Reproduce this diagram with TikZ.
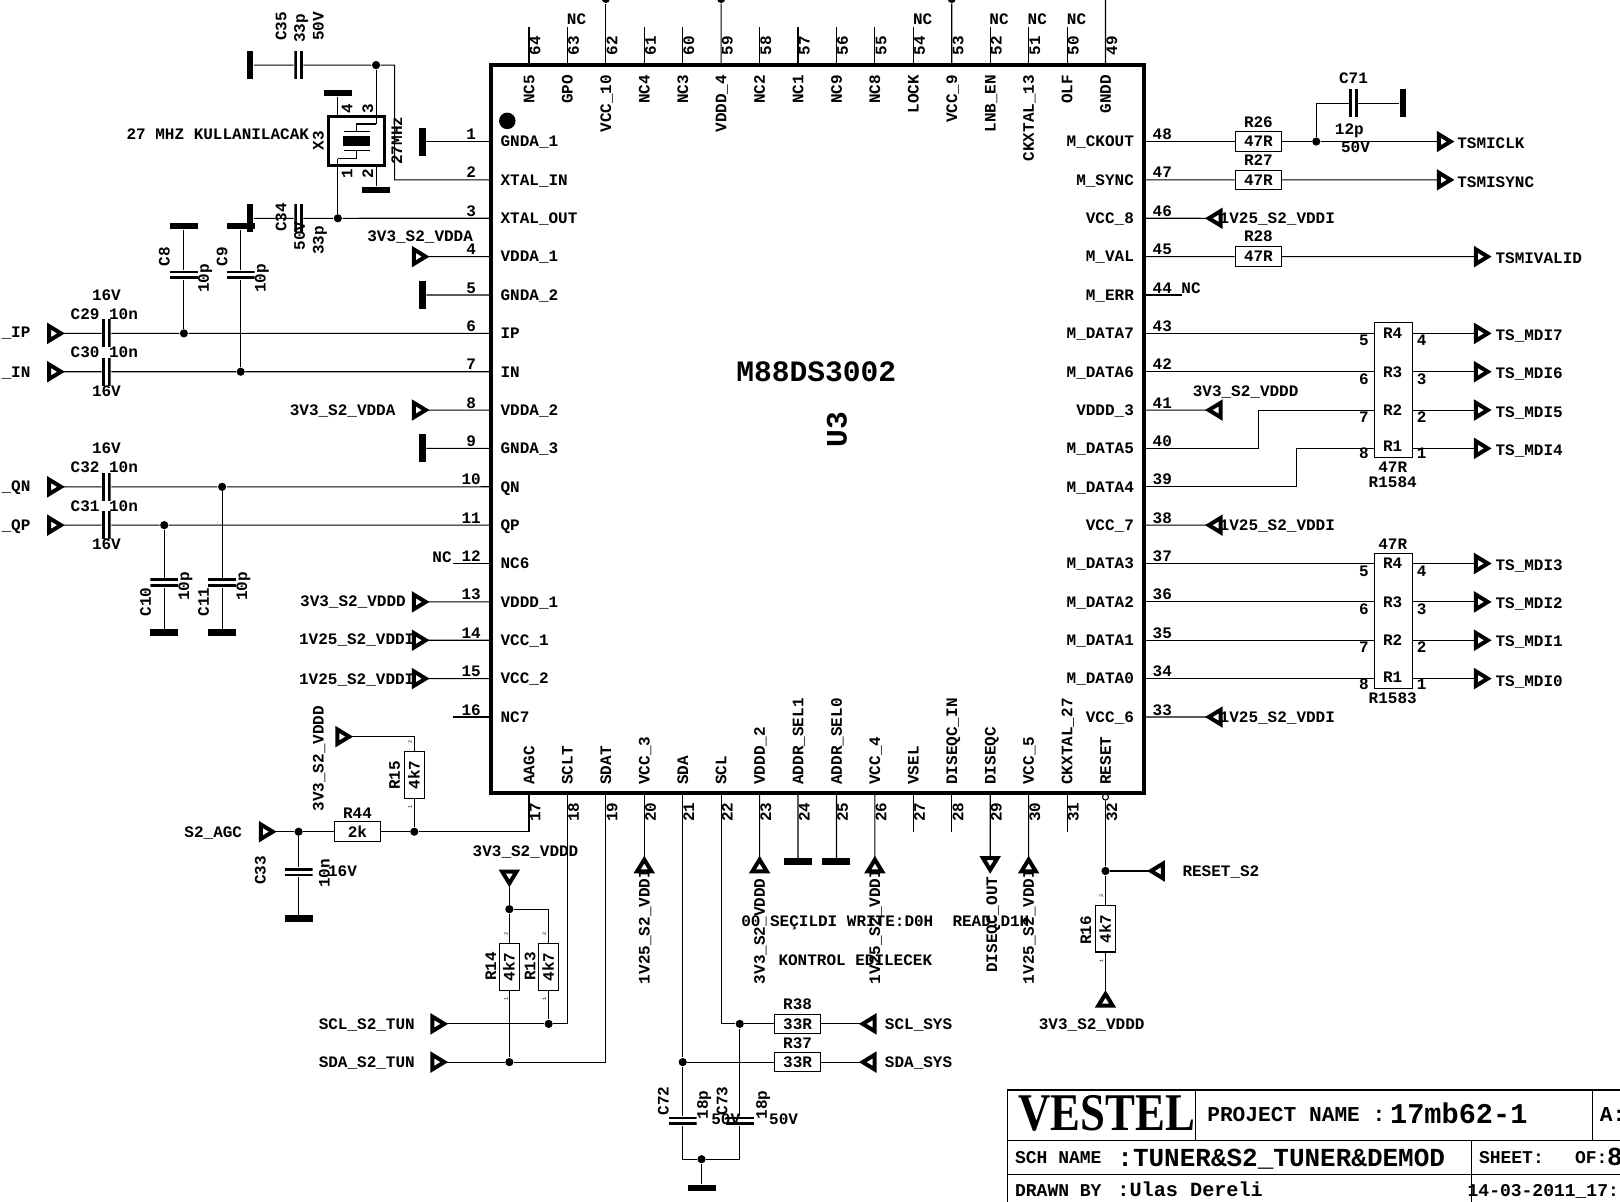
\documentclass[tikz,border=0pt]{standalone}
\usepackage{fontspec}
\setmonofont{Liberation Mono}
\newfontfamily\vestelfont{Liberation Serif}
\newcommand{\lblfont}{\fontsize{8}{8}\selectfont\bfseries\ttfamily}
\newcommand{\tinyfont}{\fontsize{2.6}{3}\selectfont\ttfamily}
\usetikzlibrary{shapes,arrows,positioning,calc}

\begin{document}
\begin{tikzpicture}[x=0.5166pt,y=-0.5166pt,line width=.55pt,
		txt/.style={font=\lblfont,inner sep=0pt,text height=5.3pt,text depth=0pt},
		txtl/.style={txt,anchor=west},
		txtv/.style={txt,rotate=90,anchor=west},
		tinynum/.style={font=\tinyfont,inner sep=0pt,rotate=90},
		dot/.style={circle,fill=black,inner sep=0pt,minimum size=4.1pt},
		gndh/.style={rectangle,fill=black,inner sep=0pt,minimum width=14pt,minimum height=3.2pt},
		gndv/.style={gndh,rotate=90},
		res/.style={draw,rectangle,txt,minimum width=23.2pt,minimum height=9.8pt},
		resv/.style={res,rotate=90},
		port/.style={isosceles triangle,isosceles triangle stretches,draw,line width=2pt,inner sep=0pt,outer sep=0pt,
			minimum width=7.2pt,minimum height=5.9pt,anchor=apex,rotate=#1},
		capv/.style={rectangle,inner sep=0pt,minimum width=4.3pt,minimum height=14pt,
			path picture={
				\fill (path picture bounding box.north west) rectangle ($(path picture bounding box.south west)+(1.4pt,0)$);
				\fill (path picture bounding box.north east) rectangle ($(path picture bounding box.south east)+(-1.4pt,0)$);
			}},
		caph/.style={rectangle,inner sep=0pt,minimum width=14pt,minimum height=4.3pt,
			path picture={
				\fill (path picture bounding box.north west) rectangle ($(path picture bounding box.north east)+(0,-1.4pt)$);
				\fill (path picture bounding box.south west) rectangle ($(path picture bounding box.south east)+(0,1.4pt)$);
			}}]
	\useasboundingbox (0,0) rectangle (1568,1163);

	\node[draw,rectangle,line width=2pt,minimum width=326.5pt,minimum height=364.2pt] (U3) at (791,415.5) {};
	\fill (491,117) circle (8);
	\node[txt,font=\fontsize{14.8}{15}\selectfont\bfseries\ttfamily,text height=9.8pt] (chipname) at (790,360) {M88DS3002};
	\node[txt,font=\fontsize{14.8}{15}\selectfont\bfseries\ttfamily,text height=9.8pt,rotate=90] (chipref) at (810,416) {U3};

	\foreach \n/\t [evaluate=\n as \yy using 137+37.13*(\n-1)] in {1/GNDA\_1,2/XTAL\_IN,3/XTAL\_OUT,4/VDDA\_1,
		5/GNDA\_2,6/IP,7/IN,8/VDDA\_2,9/GNDA\_3,10/QN,11/QP,12/NC6,13/VDDD\_1,14/VCC\_1,15/VCC\_2,16/NC7}
	{
		\coordinate (p\n) at (475,\yy);
		\coordinate (q\n) at (438,\yy);
		\node[txtl] (name\n) at (484,\yy) {\t};
		\node[txt] (num\n) at (456,\yy-7) {\n};
	}
	\foreach \n/\t [evaluate=\n as \yy using 137+37.13*(48-\n)] in {48/M\_CKOUT,47/M\_SYNC,46/VCC\_8,45/M\_VAL,
		44/M\_ERR,43/M\_DATA7,42/M\_DATA6,41/VDDD\_3,40/M\_DATA5,39/M\_DATA4,38/VCC\_7,37/M\_DATA3,36/M\_DATA2,
		35/M\_DATA1,34/M\_DATA0,33/VCC\_6}
	{
		\coordinate (p\n) at (1107,\yy);
		\coordinate (q\n) at (1144,\yy);
		\node[txt,anchor=east] (name\n) at (1098,\yy) {\t};
		\node[txt] (num\n) at (1125,\yy-7) {\n};
	}
	\foreach \n/\t [evaluate=\n as \xx using 512+37.2*(64-\n)] in {64/NC5,63/GPO,62/VCC\_10,61/NC4,60/NC3,59/VDDD\_4,
		58/NC2,57/NC1,56/NC9,55/NC8,54/LOCK,53/VCC\_9,52/LNB\_EN,51/CKXTAL\_13,50/OLF,49/GNDD}
	{
		\coordinate (p\n) at (\xx,63);
		\coordinate (q\n) at (\xx,26);
		\node[txt,rotate=90,anchor=east] (name\n) at (\xx,72) {\t};
		\node[txt,rotate=90] (num\n) at (\xx+6,44) {\n};
	}
	\foreach \n/\t [evaluate=\n as \xx using 512+37.2*(\n-17)] in {17/AAGC,18/SCLT,19/SDAT,20/VCC\_3,21/SDA,22/SCL,
		23/VDDD\_2,24/ADDR\_SEL1,25/ADDR\_SEL0,26/VCC\_4,27/VSEL,28/DISEQC\_IN,29/DISEQC,30/VCC\_5,31/CKXTAL\_27,32/RESET}
	{
		\coordinate (p\n) at (\xx,768);
		\coordinate (q\n) at (\xx,805);
		\node[txtv] (name\n) at (\xx,760) {\t};
		\node[txt,rotate=90] (num\n) at (\xx+6,786) {\n};
	}

	\foreach \n in {64,63,61,60,58,57,56,55,54,52,51,50,12,16,44,27,28,31}
		\draw (p\n)--(q\n);
	\foreach \n/\xx in {63/558,54/893,52/967,51/1004,50/1042}
		\node[txt] (nc\n) at (\xx,19) {NC};
	\node[txtl] (nc12) at (418,539) {NC};
	\node[txtl] (nc44) at (1143,279) {NC};

	\foreach \n/\xx/\yy in {jC35/364/63,jXO/327/211.3,jIP/178/322.7,jIN/233/359.8,jQN/215/471.2,jQP/159/508.3,
		jR15/401/805,jAGC/289/805,jVDD/493/880,jSCLT/531/991,jSDAT/493/1028,jSCL/716/991,jSDA/660.8/1028,
		jG/679/1122,jRST/1070/843,jCLK/1274/137,t62/586.4/-1,t59/698/-1,t53/921.2/-1}
		\node[dot] (\n) at (\xx,\yy) {};
	\node[circle,draw,fill=white,inner sep=0pt,minimum size=3pt] (bub32) at (1070,771.5) {};
	\coordinate (t49) at (1070,0);

	\foreach \n/\xx/\yy in {gX4/327/90,gX2/364/184,gC8/178/219,gC9/233/219,gC10/159/612,gC11/215/612,gC33/289/889,
		g24/772.4/834,g25/809.6/834,gG/679/1150}
		\node[gndh] (\n) at (\xx,\yy) {};
	\foreach \n/\xx/\yy in {gC35/242/63,gC34/242/211.3,g1/409/137,g5/409/285.5,g9/409/434,gC71/1358/100}
		\node[gndv] (\n) at (\xx,\yy) {};

	\foreach \n/\xx/\yy in {C35/289/63,C34/289/211.3,C29/103/322.7,C30/103/359.8,C32/103/471.2,C31/103/508.3,C71/1310/100}
		\node[capv] (\n) at (\xx,\yy) {};
	\foreach \n/\xx/\yy in {C8/178/266,C9/233/266,C10/159/564,C11/215/564,C33/289/844,C72/660.8/1085,C73/716/1085}
		\node[caph] (\n) at (\xx,\yy) {};

	\foreach \n/\xx/\yy/\t in {R44/346/805/2k,R26/1218/137/47R,R27/1218/174.1/47R,R28/1218/248.4/47R,
		R38/772/991/33R,R37/772/1028/33R}
		\node[res] (\n) at (\xx,\yy) {\t};
	\foreach \n/\xx/\yy/\t in {R15/401/750/4k7,R14/493/936/4k7,R13/531/936/4k7,R16/1070/899/4k7}
		\node[resv] (\n) at (\xx,\yy) {\t};

	\foreach \n/\xx/\yy/\r in {pIP/59/322.7/0,pIN/59/359.8/0,pQN/59/471.2/0,pQP/59/508.3/0,pP4/412/248.4/0,
		pP8/412/396.9/0,pP13/412/582.6/0,pP14/412/619.7/0,pP15/412/656.8/0,pR15/338/713/0,pAGC/264/805/0,
		pSCLT/430/991/0,pSDAT/430/1028/0,pCLK/1404/137/0,pSYNC/1404/174.1/0,pVALID/1440/248.4/0,
		pT7/1440/322.7/0,pT6/1440/359.8/0,pT5/1440/396.9/0,pT4/1440/434/0,
		pT3/1440/545.4/0,pT2/1440/582.6/0,pT1/1440/619.7/0,pT0/1440/656.8/0,
		pP46/1170/211.3/180,pP41/1170/396.9/180,pP38/1170/508.3/180,pP33/1170/694/180,
		pRST/1114/843/180,pSCL/835/991/180,pSDA/835/1028/180,
		pP20/623.6/832/90,pP23/735.2/832/90,pP26/846.8/832/90,pP30/995.6/832/90,pR16/1070/962/90,
		pVDD/493/855/270,pP29/958.4/842/270}
		\node[port=\r] (\n) at (\xx,\yy) {};

	\node[draw,rectangle,line width=1.6pt,minimum width=27.9pt,minimum height=24.3pt] (X3) at (345,136.5) {};
	\coordinate (x4) at (327,113);
	\coordinate (x2) at (364,160);
	\coordinate (x1) at (327,153.6);
	\coordinate (x3) at (364,120);
	\coordinate (kXI) at (382,174.1);
	\draw (333,127)--(358,127);
	\draw (333,146)--(358,146);
	\fill (332,132) rectangle (358,141);
	\draw (x3)--(345,120)--(345,127);
	\draw (345,146)--(345,153.6)--(x1);
	\draw (gX4)--(x4);
	\draw (x2)--(gX2);
	\draw (jC35)--(x3);
	\draw (gC35)--(C35)--(jC35)-|(kXI)--(p2);
	\draw (gC34)--(C34)--(jXO)--(p3);
	\draw (x1)--(jXO);
	\draw (g1)--(p1);
	\draw (g5)--(p5);
	\draw (g9)--(p9);
	\draw (pP4.apex)--(p4);
	\draw (pP8.apex)--(p8);
	\draw (pP13.apex)--(p13);
	\draw (pP14.apex)--(p14);
	\draw (pP15.apex)--(p15);
	\draw (pIP.apex)--(C29)--(jIP)--(p6);
	\draw (pIN.apex)--(C30)--(jIN)--(p7);
	\draw (gC8)--(C8)--(jIP);
	\draw (gC9)--(C9)--(jIN);
	\draw (pQN.apex)--(C32)--(jQN)--(p10);
	\draw (pQP.apex)--(C31)--(jQP)--(p11);
	\draw (jQP)--(C10)--(gC10);
	\draw (jQN)--(C11)--(gC11);
	\draw (pR15.apex)-|(R15.east);
	\draw (R15.west)--(jR15);
	\draw (pAGC.apex)--(jAGC)--(R44)--(jR15)-|(p17);
	\draw (jAGC)--(C33)--(gC33);
	\draw (p18)|-(jSCLT)--(pSCLT.apex);
	\draw (p19)|-(jSDAT)--(pSDAT.apex);
	\draw (pVDD.apex)--(jVDD)--(R14)--(jSDAT);
	\draw (jVDD)-|(R13.east);
	\draw (R13.west)--(jSCLT);
	\draw (p20)--(pP20.apex);
	\draw (p23)--(pP23.apex);
	\draw (p26)--(pP26.apex);
	\draw (p30)--(pP30.apex);
	\draw (p29)--(pP29.lower side);
	\draw (p24)--(g24);
	\draw (p25)--(g25);
	\draw (p21)--(jSDA)--(C72);
	\draw (C72)|-(jG);
	\draw (C73)|-(jG);
	\draw (jSCL)--(C73);
	\draw (jG)--(gG);
	\draw (p22)|-(jSCL)--(R38)--(pSCL.apex);
	\draw (jSDA)--(R37)--(pSDA.apex);
	\draw (bub32)--(jRST)--(R16)--(pR16.apex);
	\draw (jRST)--(pRST.apex);
	\draw (p62)--(t62);
	\draw (p59)--(t59);
	\draw (p53)--(t53);
	\draw (p49)--(t49);

	\draw (p48)--(R26)--(jCLK)--(pCLK.lower side);
	\draw (jCLK)|-(C71)--(gC71);
	\draw (p47)--(R27)--(pSYNC.lower side);
	\draw (p45)--(R28)--(pVALID.lower side);
	\draw (p46)--(pP46.apex);
	\draw (p41)--(pP41.apex);
	\draw (p38)--(pP38.apex);
	\draw (p33)--(pP33.apex);

	\node[draw,rectangle,minimum width=19.1pt,minimum height=67.7pt] (R1584) at (1348.5,377.5) {};
	\node[draw,rectangle,minimum width=19.1pt,minimum height=67.2pt] (R1583) at (1348.5,601) {};
	\coordinate (k40) at (1218,396.9);
	\coordinate (k39) at (1255,434);
	\draw (p43)--(R1584.west |- p43);
	\draw (p42)--(R1584.west |- p42);
	\draw (p40)-|(k40)--(R1584.west |- k40);
	\draw (p39)-|(k39)--(R1584.west |- k39);
	\draw (p37)--(R1583.west |- p37);
	\draw (p36)--(R1583.west |- p36);
	\draw (p35)--(R1583.west |- p35);
	\draw (p34)--(R1583.west |- p34);
	\foreach \n/\b in {T7/R1584,T6/R1584,T5/R1584,T4/R1584,T3/R1583,T2/R1583,T1/R1583,T0/R1583}
		\draw (\b.east |- p\n)--(p\n.lower side);
	\foreach \n/\t/\a/\b/\yy [count=\c] in {a/R4/5/4/322.7,b/R3/6/3/359.8,c/R2/7/2/396.9,d/R1/8/1/432,
		e/R4/5/4/545.4,f/R3/6/3/582.6,g/R2/7/2/619.7,h/R1/8/1/655}
	{
		\node[txt] (sub\n) at (1348,\yy) {\t};
		\node[txt] (subl\n) at (1320,\yy+7) {\a};
		\node[txt] (subr\n) at (1376,\yy+7) {\b};
	}

	\foreach \t/\xx/\yy [count=\c] in {16V/103/286,16V/103/379,16V/103/434,16V/103/527,
		C29 10n/101/304,C30 10n/101/341,C32 10n/101/452,C31 10n/101/490,
		R44/346/787,R26/1218/118,R27/1218/155,R28/1218/229,R38/772/972,R37/772/1010,
		C71/1310/76,12p/1306/125,50V/1312/142,47R/1348/452,R1584/1348/467,47R/1348/527,R1583/1348/676}
		\node[txt] (lab\c) at (\xx,\yy) {\t};
	\foreach \t/\xx/\yy [count=\c] in {27 MHZ KULLANILACAK/122/130,3V3\_S2\_VDDA/355/229,3V3\_S2\_VDDA/280/397,
		3V3\_S2\_VDDD/290/582,1V25\_S2\_VDDI/289/619,1V25\_S2\_VDDI/289/657,S2\_AGC/178/805,3V3\_S2\_VDDD/457/824,
		SCL\_S2\_TUN/308/991,SDA\_S2\_TUN/308/1028,SCL\_SYS/856/991,SDA\_SYS/856/1028,RESET\_S2/1144/843,
		3V3\_S2\_VDDD/1005/991,1V25\_S2\_VDDI/1180/211,1V25\_S2\_VDDI/1180/508,1V25\_S2\_VDDI/1180/694,
		3V3\_S2\_VDDD/1154/379,TSMICLK/1410/139,TSMISYNC/1410/176,TSMIVALID/1447/250,TS\_MDI7/1447/324,
		TS\_MDI6/1447/361,TS\_MDI5/1447/399,TS\_MDI4/1447/436,TS\_MDI3/1447/547,TS\_MDI2/1447/584,
		TS\_MDI1/1447/621,TS\_MDI0/1447/659,16V/317/843,50V/688/1083,50V/744/1083,\_IP/1/322,\_IN/1/360,
		\_QN/1/471,\_QP/1/508,00 SEÇILDI WRITE:D0H\ \ READ:D1H/717/892,KONTROL EDILECEK/753/929}
		\node[txtl] (left\c) at (\xx,\yy) {\t};
	\foreach \t/\xx/\yy [count=\c] in {C35/272/40,33p/290/42,50V/308/40,X3/308/146,27MHz/384/160,C34/272/225,
		50V/290/243,33p/308/247,C8/159/258,10p/197/284,C9/215/258,10p/252/284,C10/141/597,10p/178/582,
		C11/197/597,10p/234/582,R15/382/765,3V3\_S2\_VDDD/308/786,C33/252/857,10n/314/860,R14/475/950,R13/513/950,
		1V25\_S2\_VDDI/623.6/953,3V3\_S2\_VDDD/735.2/953,1V25\_S2\_VDDI/846.8/953,DISEQC\_OUT/960/942,
		1V25\_S2\_VDDI/995.6/953,R16/1051/915,C72/642/1080,18p/680/1084,C73/699/1080,18p/737/1084,
		4/336/110,3/356/110,1/336/173,2/356/173}
		\node[txtv] (side\c) at (\xx,\yy) {\t};
	\foreach \t/\xx/\yy [count=\c] in {2/397/718,1/397/781,2/490/904,1/490/967,2/527/904,1/527/967,2/1066/867,1/1066/930}
		\node[tinynum] (small\c) at (\xx,\yy) {\t};

	\draw (1568,1055)-|(975,1163);
	\draw (975,1104)--(1568,1104);
	\draw (975,1137)--(1568,1137);
	\draw (1157,1055)--(1157,1104);
	\draw (1541,1055)--(1541,1104);
	\draw (1424,1104)--(1424,1163);
	\node[inner sep=0pt,anchor=west] (vestel) at (985,1078) {\scalebox{.845}[1]{\vestelfont\bfseries\fontsize{26.5}{27}\selectfont VESTEL}};
	\node[txtl,font=\fontsize{10.6}{11}\selectfont\bfseries\ttfamily,text height=7pt] (proj) at (1168,1079) {PROJECT NAME :};
	\node[txtl,font=\fontsize{14.3}{15}\selectfont\ttfamily\bfseries,text height=9.5pt] (projval) at (1345,1078) {17mb62-1};
	\node[txtl,font=\fontsize{10.6}{11}\selectfont\bfseries\ttfamily,text height=7pt] (size) at (1548,1079) {A:};
	\node[txtl,font=\fontsize{9}{9}\selectfont\bfseries\ttfamily,text height=6pt] (sch) at (982,1120) {SCH NAME};
	\node[txtl,font=\fontsize{13}{13}\selectfont\bfseries\ttfamily,text height=8.6pt] (schval) at (1081,1121) {:TUNER\&S2\_TUNER\&DEMOD};
	\node[txtl,font=\fontsize{9}{9}\selectfont\bfseries\ttfamily,text height=6pt] (sheet) at (1431,1120) {SHEET:};
	\node[txtl,font=\fontsize{9}{9}\selectfont\bfseries\ttfamily,text height=6pt] (of) at (1524,1120) {OF:};
	\node[txtl,font=\fontsize{13}{13}\selectfont\bfseries\ttfamily,text height=8.6pt] (ofval) at (1555,1120) {8};
	\node[txtl,font=\fontsize{9}{9}\selectfont\bfseries\ttfamily,text height=6pt] (drawn) at (982,1152) {DRAWN BY};
	\node[txtl,font=\fontsize{10.1}{11}\selectfont\bfseries\ttfamily,text height=6.7pt] (drawnval) at (1081,1152) {:Ulas Dereli};
	\node[txtl,font=\fontsize{9}{9}\selectfont\bfseries\ttfamily,text height=6pt] (date) at (1420,1152) {14-03-2011\_17:};
\end{tikzpicture}
\end{document}
